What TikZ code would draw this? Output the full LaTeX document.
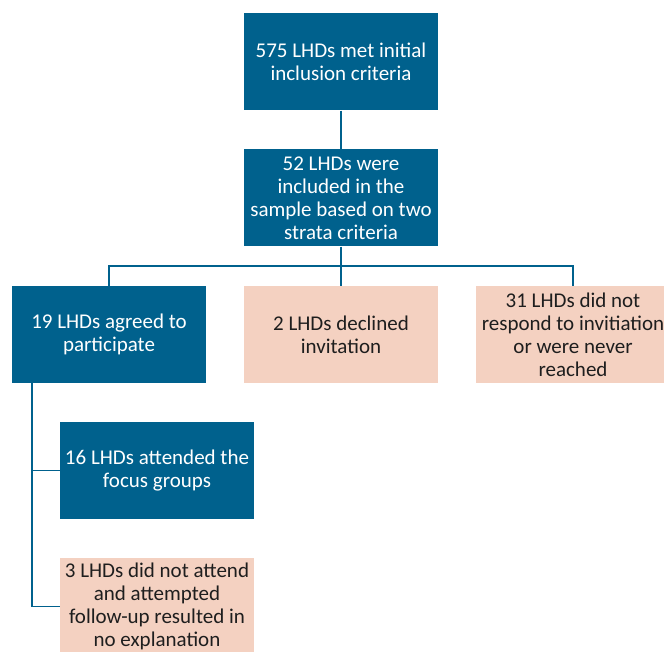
\documentclass[tikz,border=0pt]{standalone}
\usepackage{fontspec}
\setmainfont{Carlito}
\usepackage{xcolor}
\definecolor{b1}{HTML}{00618D}
\definecolor{p1}{HTML}{F4D1C1}
\definecolor{t1}{HTML}{1E1E1E}
\newcommand{\boxW}{194pt}
\newcommand{\boxH}{97pt}
\newcommand{\lineW}{1.6pt}

\tikzset{
	base/.style={minimum width=\boxW, minimum height=\boxH, inner sep=1pt, align=center, font=\fontsize{21}{23}\selectfont},
	bluebox/.style={base, fill=b1, text=white},
	peachbox/.style={base, fill=p1, text=t1},
	link/.style={draw=b1, line width=\lineW}
}

\begin{document}
\begin{tikzpicture}[x=1pt, y=-1pt]
	\useasboundingbox (0,0) rectangle (664,652);
	\clip (0,0) rectangle (664,652);
	\node[bluebox] (top) at (341,62) {575 LHDs met initial\\inclusion criteria};
	\node[bluebox] (sample) at (341,198) {52 LHDs were\\included in the\\sample based on two\\strata criteria};
	\node[bluebox] (agreed) at (109,334.5) {19 LHDs agreed to\\participate};
	\node[peachbox] (declined) at (341,334.5) {2 LHDs declined\\invitation};
	\node[peachbox] (noresp) at (573,334.5) {31 LHDs did not\\respond to invitiation\\or were never\\reached};
	\node[bluebox] (attended) at (157,470.5) {16 LHDs attended the\\focus groups};
	\node[peachbox] (noattend) at (157,606.5) {3 LHDs did not attend\\and attempted\\follow-up resulted in\\no explanation};
	\coordinate (bus) at (341,266);
	\coordinate (trunk) at (32,383);
	\draw[link] (top) -- (sample);
	\draw[link] (sample) -- (declined);
	\draw[link] (agreed.north) -- (agreed.north |- bus) -- (noresp.north |- bus) -- (noresp.north);
	\draw[link] (trunk) |- (attended.west);
	\draw[link] (trunk) |- (noattend.west);
\end{tikzpicture}
\end{document}
